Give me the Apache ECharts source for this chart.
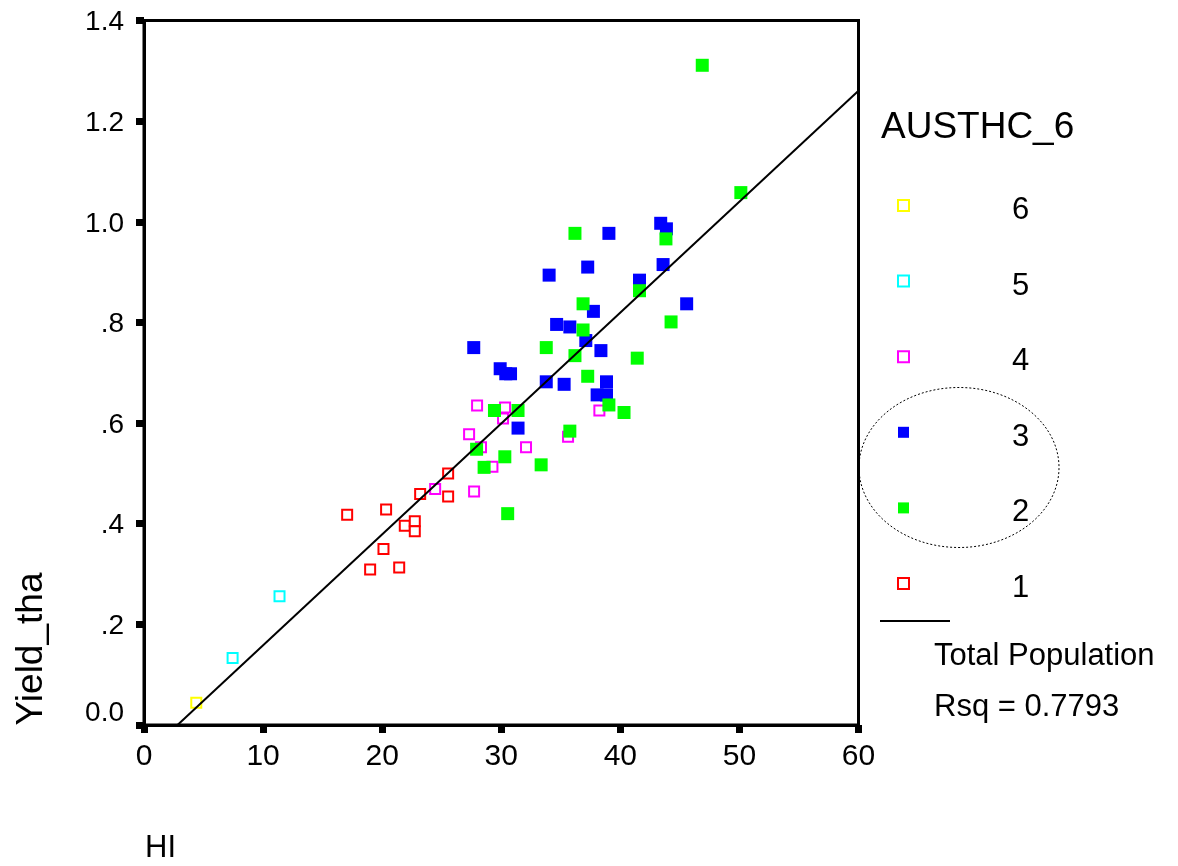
<!DOCTYPE html>
<html>
<head>
<meta charset="utf-8">
<script src="https://cdn.jsdelivr.net/npm/echarts@6/dist/echarts.min.js"></script>
<style>
html, body { margin: 0; padding: 0; background: #fff; }
#main { width: 1178px; height: 866px; }
</style>
</head>
<body>
<div id="main"></div>
<script>
// points per AUSTHC_6 cluster: [HI, Yield_tha]
var group1 = [[17.06,0.418],[20.33,0.428],[20.11,0.350],[18.99,0.309],[21.43,0.313],[21.90,0.396],
    [22.74,0.405],[22.74,0.385],[23.19,0.459],[25.54,0.500],[25.54,0.454]];
var group2 = [[46.88,1.311],[50.12,1.058],[36.19,0.977],[43.83,0.966],[41.61,0.863],[36.87,0.837],
    [44.26,0.801],[36.87,0.785],[33.78,0.750],[36.19,0.734],[41.42,0.729],[37.26,0.693],
    [39.04,0.636],[29.43,0.625],[31.41,0.625],[40.31,0.621],[35.76,0.584],[27.93,0.548],
    [30.30,0.533],[28.56,0.512],[33.35,0.517],[30.54,0.420]];
var group3 = [[43.39,0.997],[43.87,0.986],[39.04,0.977],[37.26,0.910],[43.59,0.915],[34.02,0.894],
    [41.61,0.884],[45.57,0.837],[37.74,0.822],[34.65,0.796],[35.76,0.791],[37.10,0.764],
    [27.69,0.750],[38.37,0.744],[29.91,0.708],[30.38,0.698],[30.78,0.698],[33.78,0.682],
    [35.28,0.677],[38.84,0.682],[38.05,0.656],[38.84,0.656],[31.41,0.590]];
var group4 = [[27.97,0.635],[30.32,0.631],[30.15,0.609],[27.30,0.578],[28.30,0.552],[32.08,0.552],
    [24.45,0.469],[27.72,0.464],[29.26,0.513],[35.61,0.573],[38.24,0.625]];
var group5 = [[7.44,0.133],[11.38,0.256]];
var group6 = [[4.39,0.044]];

var yTickLabels = ['0.0', '.2', '.4', '.6', '.8', '1.0', '1.2', '1.4'];
// total population fit
var fitIntercept = -0.062;
var fitSlope = 0.02204;
var rsqText = 'Rsq = 0.7793';

var font = 'Liberation Sans, Arial, sans-serif';
var myChart = echarts.init(document.getElementById('main'));

function hollow(name, data, color) {
    return {
        name: name, type: 'scatter', data: data, symbol: 'rect', symbolSize: 10, z: 2,
        itemStyle: { color: '#fff', borderColor: color, borderWidth: 2, opacity: 1 }
    };
}
function filled(name, data, color) {
    return {
        name: name, type: 'scatter', data: data, symbol: 'rect', symbolSize: 13, z: 2,
        itemStyle: { color: color, opacity: 1 }
    };
}

var x0 = -fitIntercept / fitSlope;
var fitLine = [[x0, 0], [60, fitIntercept + fitSlope * 60]];

var legendItems = [
    { name: '6', itemStyle: { color: '#fff', borderColor: '#ffff00', borderWidth: 2 } },
    { name: '5', itemStyle: { color: '#fff', borderColor: '#00ffff', borderWidth: 2 } },
    { name: '4', itemStyle: { color: '#fff', borderColor: '#ff00ff', borderWidth: 2 } },
    { name: '3', itemStyle: { color: '#0000ff' } },
    { name: '2', itemStyle: { color: '#00ff00' } },
    { name: '1', itemStyle: { color: '#fff', borderColor: '#ff0000', borderWidth: 2 } }
];

option = {
    animation: false,
    backgroundColor: '#fff',
    grid: {
        left: 144, right: 319.5, top: 20.5, bottom: 141,
        show: true, borderColor: '#000', borderWidth: 3
    },
    xAxis: {
        type: 'value', min: 0, max: 60, interval: 10,
        splitLine: { show: false },
        axisLine: { lineStyle: { color: '#000', width: 3 } },
        axisTick: { length: 8, lineStyle: { color: '#000', width: 7 } },
        axisLabel: { color: '#000', fontSize: 30, fontFamily: font, margin: 17 }
    },
    yAxis: {
        type: 'value', min: 0, max: 1.4, interval: 0.2,
        splitLine: { show: false },
        axisLine: { lineStyle: { color: '#000', width: 3 } },
        axisTick: { length: 8, lineStyle: { color: '#000', width: 7 } },
        axisLabel: {
            color: '#000', fontSize: 28, fontFamily: font, margin: 20, padding: [4, 0, 0, 0],
            formatter: function (v) {
                var s = yTickLabels[Math.round(v / 0.2)];
                return v === 0 ? '{z|' + s + '}' : s;
            },
            rich: { z: { fontSize: 28, fontFamily: font, color: '#000', padding: [0, 0, 28, 0] } }
        }
    },
    legend: {
        orient: 'vertical', left: 897, top: 185, padding: 0,
        itemWidth: 11, itemHeight: 11, itemGap: 34.6, icon: 'rect',
        data: legendItems,
        formatter: function (name) { return '{n|' + name + '}'; },
        textStyle: {
            fontSize: 31, fontFamily: font, color: '#000',
            rich: { n: { fontSize: 31, fontFamily: font, color: '#000', lineHeight: 30, padding: [10, 0, 0, 98] } }
        }
    },
    series: [
        hollow('1', group1, '#ff0000'),
        hollow('4', group4, '#ff00ff'),
        hollow('5', group5, '#00ffff'),
        hollow('6', group6, '#ffff00'),
        filled('3', group3, '#0000ff'),
        filled('2', group2, '#00ff00'),
        {
            name: 'Total Population', type: 'line', data: fitLine, symbol: 'none', z: 5, silent: true,
            lineStyle: { color: '#000', width: 2 }
        }
    ],
    graphic: [
        { type: 'text', x: 881, y: 128, style: { text: 'AUSTHC_6', font: '37px ' + font, fill: '#000', verticalAlign: 'middle' } },
        { type: 'ellipse', shape: { cx: 959, cy: 467.5, rx: 100, ry: 80 }, style: { fill: null, stroke: '#000', lineWidth: 1, lineDash: [2, 2] } },
        { type: 'line', shape: { x1: 880, y1: 621, x2: 950, y2: 621 }, style: { stroke: '#000', lineWidth: 2 } },
        { type: 'text', x: 934, y: 656, style: { text: 'Total Population', font: '31px ' + font, fill: '#000', verticalAlign: 'middle' } },
        { type: 'text', x: 934, y: 707, style: { text: rsqText, font: '31px ' + font, fill: '#000', verticalAlign: 'middle' } },
        { type: 'text', x: 32, y: 649, rotation: Math.PI / 2, style: { text: 'Yield_tha', font: '37px ' + font, fill: '#000', align: 'center', verticalAlign: 'middle' } },
        { type: 'text', x: 145, y: 848, style: { text: 'HI', font: '31px ' + font, fill: '#000', verticalAlign: 'middle' } }
    ]
};

myChart.setOption(option);
window.addEventListener('resize', function () {
    myChart.resize();
});
</script>
</body>
</html>
